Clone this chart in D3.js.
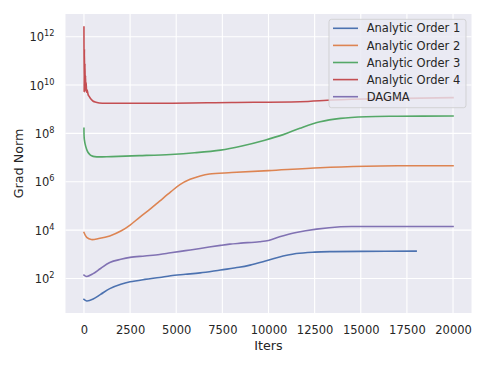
<!DOCTYPE html>
<html>
<head>
<meta charset="utf-8">
<script src="https://cdn.jsdelivr.net/npm/d3@7"></script>
<style>
  body { margin: 0; background: #fff; }
  text { font-family: "DejaVu Sans", sans-serif; fill: #262626; }
</style>
</head>
<body>
<div id="chart"></div>
<script>
// values (iteration, grad norm)
var order1Iters = [0, 150, 500, 900, 1400, 2000, 2500, 3300, 4100, 4700, 5500, 6300, 7400, 8400, 9000, 9700, 10500, 11500, 12500, 13500, 15000, 18000];
var order1Values = [13.5, 11.7, 14.1, 21.9, 38.0, 57.5, 72.4, 91.2, 110, 129, 148, 170, 224, 288, 355, 490, 741, 1070, 1230, 1290, 1320, 1350];

var order2Iters = [0, 150, 400, 800, 1400, 2000, 2500, 3000, 3600, 4100, 4700, 5200, 5750, 6300, 6800, 8000, 10000, 12800, 15300, 17000, 20000];
var order2Values = [7940, 5010, 4070, 4470, 5750, 9120, 16200, 33100, 75900, 158000, 380000, 759000, 1.26e6, 1.74e6, 2.09e6, 2.40e6, 2.88e6, 3.80e6, 4.37e6, 4.57e6, 4.57e6];

var order3Iters = [0, 20, 100, 200, 350, 500, 700, 1500, 3000, 4700, 6000, 7400, 8500, 9800, 10800, 11700, 12800, 13900, 15300, 17000, 20000];
var order3Values = [1.62e8, 5.62e7, 2.82e7, 1.74e7, 1.26e7, 1.12e7, 1.07e7, 1.10e7, 1.20e7, 1.35e7, 1.58e7, 2.04e7, 2.95e7, 5.25e7, 8.91e7, 1.62e8, 3.02e8, 4.17e8, 4.90e8, 5.13e8, 5.25e8];

var order4Iters = [0, 10, 25, 40, 55, 70, 85, 100, 120, 140, 170, 220, 290, 400, 500, 650, 1000, 4000, 8000, 11700, 13500, 16500, 20000];
var order4Values = [2.51e12, 5.01e9, 3.16e11, 5.62e9, 7.94e10, 6.31e9, 2.51e10, 5.62e9, 1.26e10, 5.01e9, 6.31e9, 4.17e9, 3.31e9, 2.51e9, 2.14e9, 1.95e9, 1.78e9, 1.78e9, 1.91e9, 2.04e9, 2.40e9, 2.75e9, 3.02e9];

var dagmaIters = [0, 150, 500, 900, 1400, 2000, 2500, 3300, 4100, 4700, 5500, 6300, 7400, 7900, 8500, 9500, 10000, 10600, 11500, 12600, 13900, 15000, 20000];
var dagmaValues = [138, 120, 158, 257, 457, 617, 741, 851, 977, 1150, 1410, 1740, 2340, 2630, 2880, 3310, 3720, 5250, 7940, 11000, 13800, 14100, 14100];

var seriesNames = ['Analytic Order 1', 'Analytic Order 2', 'Analytic Order 3', 'Analytic Order 4', 'DAGMA'];
var seriesColors = ['#4c72b0', '#dd8452', '#55a868', '#c44e52', '#8172b3'];

var xTicks = [0, 2500, 5000, 7500, 10000, 12500, 15000, 17500, 20000];
var yTickExponents = [2, 4, 6, 8, 10, 12];

var W = 487, H = 365;
var margin = { top: 14, right: 15.5, bottom: 52, left: 65.5 },
    w = W - margin.left - margin.right,
    h = H - margin.top - margin.bottom;

function translation(x, y) {
  return 'translate(' + x + ',' + y + ')';
}

var series = [
  { iters: order1Iters, values: order1Values },
  { iters: order2Iters, values: order2Values },
  { iters: order3Iters, values: order3Values },
  { iters: order4Iters, values: order4Values },
  { iters: dagmaIters, values: dagmaValues }
].map(function(s, i) {
  return {
    name: seriesNames[i],
    color: seriesColors[i],
    noisy: i === 3,
    points: s.iters.map(function(it, j) { return [it, s.values[j]]; })
  };
});

var svg = d3.select('#chart').append('svg')
  .attr('width', W)
  .attr('height', H);

var plot = svg.append('g')
  .attr('transform', translation(margin.left, margin.top));

var xScale = d3.scaleLinear()
  .domain([-1000, 21000])
  .range([0, w]);

var yScale = d3.scaleLog()
  .domain([Math.pow(10, 0.57), Math.pow(10, 12.94)])
  .range([h, 0]);

// background
plot.append('rect')
  .attr('width', w)
  .attr('height', h)
  .attr('fill', '#eaeaf2');

// grid
plot.append('g')
  .selectAll('line')
  .data(xTicks)
  .enter().append('line')
    .attr('x1', function(d) { return xScale(d); })
    .attr('x2', function(d) { return xScale(d); })
    .attr('y1', 0)
    .attr('y2', h)
    .attr('stroke', '#fff')
    .attr('stroke-width', 1.1);

plot.append('g')
  .selectAll('line')
  .data(yTickExponents)
  .enter().append('line')
    .attr('x1', 0)
    .attr('x2', w)
    .attr('y1', function(d) { return yScale(Math.pow(10, d)); })
    .attr('y2', function(d) { return yScale(Math.pow(10, d)); })
    .attr('stroke', '#fff')
    .attr('stroke-width', 1.1);

// x axis
var xAxis = d3.axisBottom(xScale)
  .tickValues(xTicks)
  .tickSize(0)
  .tickPadding(12.5)
  .tickFormat(d3.format('d'));

var gx = plot.append('g')
  .attr('transform', translation(0, h))
  .call(xAxis);
gx.select('.domain').remove();
gx.selectAll('text')
  .style('font-size', '11.5px')
  .style('font-family', '"DejaVu Sans", sans-serif')
  .attr('fill', '#262626');

// y axis, labels as 10 with superscript
var yLabels = plot.append('g')
  .selectAll('text')
  .data(yTickExponents)
  .enter().append('text')
    .attr('x', -11)
    .attr('y', function(d) { return yScale(Math.pow(10, d)); })
    .attr('dy', '0.4em')
    .attr('text-anchor', 'end')
    .style('font-size', '11.5px');
yLabels.append('tspan').text('10');
yLabels.append('tspan')
  .attr('dy', -5)
  .style('font-size', '8.2px')
  .text(function(d) { return d; });

// axis titles
svg.append('text')
  .attr('x', margin.left + w / 2)
  .attr('y', 350)
  .attr('text-anchor', 'middle')
  .style('font-size', '12.7px')
  .text('Iters');

svg.append('text')
  .attr('transform', translation(23, margin.top + h / 2) + ' rotate(-90)')
  .attr('text-anchor', 'middle')
  .style('font-size', '12.7px')
  .text('Grad Norm');

// lines
var smoothLine = d3.line()
  .x(function(d) { return xScale(d[0]); })
  .y(function(d) { return yScale(d[1]); })
  .curve(d3.curveCatmullRom.alpha(0.5));

var noisyLine = d3.line()
  .x(function(d) { return xScale(d[0]); })
  .y(function(d) { return yScale(d[1]); })
  .curve(d3.curveMonotoneX);

plot.append('g')
  .selectAll('path')
  .data(series)
  .enter().append('path')
    .attr('d', function(d) { return d.noisy ? noisyLine(d.points) : smoothLine(d.points); })
    .attr('fill', 'none')
    .attr('stroke', function(d) { return d.color; })
    .attr('stroke-width', 1.6)
    .attr('stroke-linejoin', 'round')
    .attr('stroke-linecap', 'square');

// legend, upper right
var legW = 137, legH = 88.4, rowH = 17.1;
var legend = plot.append('g')
  .attr('transform', translation(w - 5.5 - legW, 5.3));

legend.append('rect')
  .attr('width', legW)
  .attr('height', legH)
  .attr('rx', 2.5)
  .attr('fill', '#eaeaf2')
  .attr('fill-opacity', 0.8)
  .attr('stroke', '#cccccc')
  .attr('stroke-opacity', 0.8)
  .attr('stroke-width', 1);

var rows = legend.selectAll('.row')
  .data(series)
  .enter().append('g')
    .attr('class', 'row')
    .attr('transform', function(d, i) { return translation(0, 9 + i * rowH); });

rows.append('line')
  .attr('x1', 4)
  .attr('x2', 29)
  .attr('stroke', function(d) { return d.color; })
  .attr('stroke-width', 1.6);

rows.append('text')
  .attr('x', 37.7)
  .attr('dy', '0.36em')
  .style('font-size', '11.5px')
  .text(function(d) { return d.name; });
</script>
</body>
</html>
